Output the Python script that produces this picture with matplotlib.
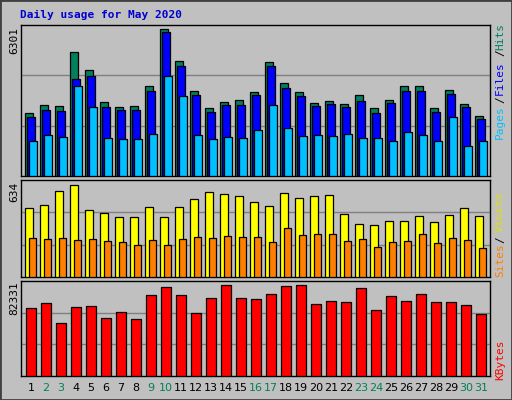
import matplotlib
matplotlib.use("Agg")
import matplotlib.pyplot as plt
from matplotlib.patches import Rectangle
import numpy as np

# ---------------------------------------------------------------------------
# Daily values, May 2020
# ---------------------------------------------------------------------------
days = list(range(1, 32))
weekend = {2, 3, 9, 10, 16, 17, 23, 24, 30, 31}

hits = [2692, 3036, 2993, 5313, 4539, 3165, 2950, 2993, 3852, 6301, 4926, 3637, 2907, 3165, 3251, 3594,
        4883, 3981, 3594, 3122, 3208, 3079, 3465, 2907, 3251, 3852, 3852, 2907, 3680, 3079, 2563]
files = [2520, 2821, 2778, 4153, 4282, 2950, 2821, 2821, 3637, 6172, 4711, 3465, 2735, 3036, 3036, 3465,
         4711, 3766, 3422, 2993, 3079, 2950, 3208, 2692, 3122, 3637, 3637, 2735, 3508, 2950, 2434]
pages = [1489, 1747, 1661, 3852, 2950, 1618, 1575, 1575, 1790, 4282, 3422, 1747, 1575, 1661, 1618, 1962,
         3036, 2048, 1704, 1747, 1704, 1790, 1618, 1618, 1489, 1876, 1747, 1489, 2520, 1274, 1489]
visits = [475, 496, 593, 634, 462, 441, 413, 413, 482, 413, 482, 537, 586, 572, 558, 517,
          489, 579, 544, 558, 565, 434, 365, 358, 386, 386, 420, 379, 427, 475, 420]
sites = [269, 262, 269, 255, 262, 248, 241, 221, 255, 221, 262, 276, 269, 283, 276, 276,
         241, 338, 289, 296, 296, 248, 262, 207, 241, 248, 296, 234, 269, 255, 200]
kbytes = [61526, 66050, 47954, 62431, 63336, 52478, 57907, 51574, 73289, 80527, 73289, 57002, 70574, 82331,
          70574, 69670, 74194, 81431, 82331, 65146, 67860, 66955, 79622, 59717, 72384, 67860, 74194, 66955,
          66955, 64241, 56098]

W, H = 512, 400
BG = "#c0c0c0"
MONO = "DejaVu Sans Mono"

fig = plt.figure(figsize=(W / 100, H / 100), dpi=100, facecolor=BG)
fig.patches.append(Rectangle((0, 0), 1, 1, transform=fig.transFigure, fill=False,
                             ec="#404040", lw=2))


def px_axes(x0, y0, x1, y1):
    # pixel box (top-left origin) -> figure axes
    ax = fig.add_axes([x0 / W, 1 - y1 / H, (x1 - x0) / W, (y1 - y0) / H])
    ax.set_facecolor(BG)
    ax.set_xlim(0.433, 31.7)
    ax.set_xticks([])
    ax.set_yticks([])
    for s in ax.spines.values():
        s.set_color("black")
        s.set_linewidth(1)
    return ax


def bars(ax, vals, left, right, color):
    d = np.array(days)
    ax.bar(d + left, vals, width=right - left, align="edge", color=color,
           edgecolor="black", linewidth=0.9, zorder=3)


def grid(ax, top):
    for f in (1 / 3, 2 / 3):
        ax.axhline(top * f, color="#808080", lw=1, zorder=1)


fig.text(20 / W, 1 - 15 / H, "Daily usage for May 2020", color="#0000d0",
         fontsize=8, fontweight="bold", family=MONO, va="center")

# top panel: hits / files / pages
ax1 = px_axes(21, 25, 490, 176)
top1 = 6301 * 151 / 146.7
ax1.set_ylim(0, top1)
grid(ax1, top1)
bars(ax1, hits, -0.3, 0.23, "#00805c")
bars(ax1, files, -0.17, 0.37, "#0000ff")
bars(ax1, pages, -0.03, 0.5, "#00c0ff")

# middle panel: visits / sites
ax2 = px_axes(21, 180, 490, 277)
top2 = 634 * 97 / 92
ax2.set_ylim(0, top2)
grid(ax2, top2)
bars(ax2, visits, -0.3, 0.23, "#ffff00")
bars(ax2, sites, -0.03, 0.43, "#ff8000")

# bottom panel: kbytes
ax3 = px_axes(21, 281, 490, 376)
top3 = 82331 * 95 / 91
ax3.set_ylim(0, top3)
grid(ax3, top3)
bars(ax3, kbytes, -0.23, 0.43, "#ff0000")

# max labels on the left
for y, txt in [(40, "6301"), (192, "634"), (298, "82331")]:
    fig.text(14 / W, 1 - y / H, txt, rotation=90, fontsize=8, family=MONO,
             ha="center", va="center", color="black")

# legends on the right
for y, txt, col in [(37, "Hits", "#00805c"), (53, "/", "#000000"), (78, "Files", "#0000ff"),
                    (100, "/", "#000000"), (122, "Pages", "#00c0ff"),
                    (212, "Visits", "#e0e000"), (240, "/", "#000000"), (260, "Sites", "#ff8000"),
                    (360, "KBytes", "#ff0000")]:
    fig.text(500 / W, 1 - y / H, txt, rotation=90, fontsize=8, family=MONO,
             ha="center", va="center", color=col)

# day labels
for d in days:
    x = ax3.transData.transform((d + 0.1, 0))[0] / (W * fig.dpi / 100) * (W / W)
    col = "#00805c" if d in weekend else "black"
    fig.text((ax3.transData.transform((d + 0.1, 0))[0]) / fig.bbox.width, 1 - 388 / H, str(d),
             fontsize=8, family="DejaVu Sans", ha="center", va="center", color=col)

fig.savefig("out.png", dpi=100, facecolor=BG)
